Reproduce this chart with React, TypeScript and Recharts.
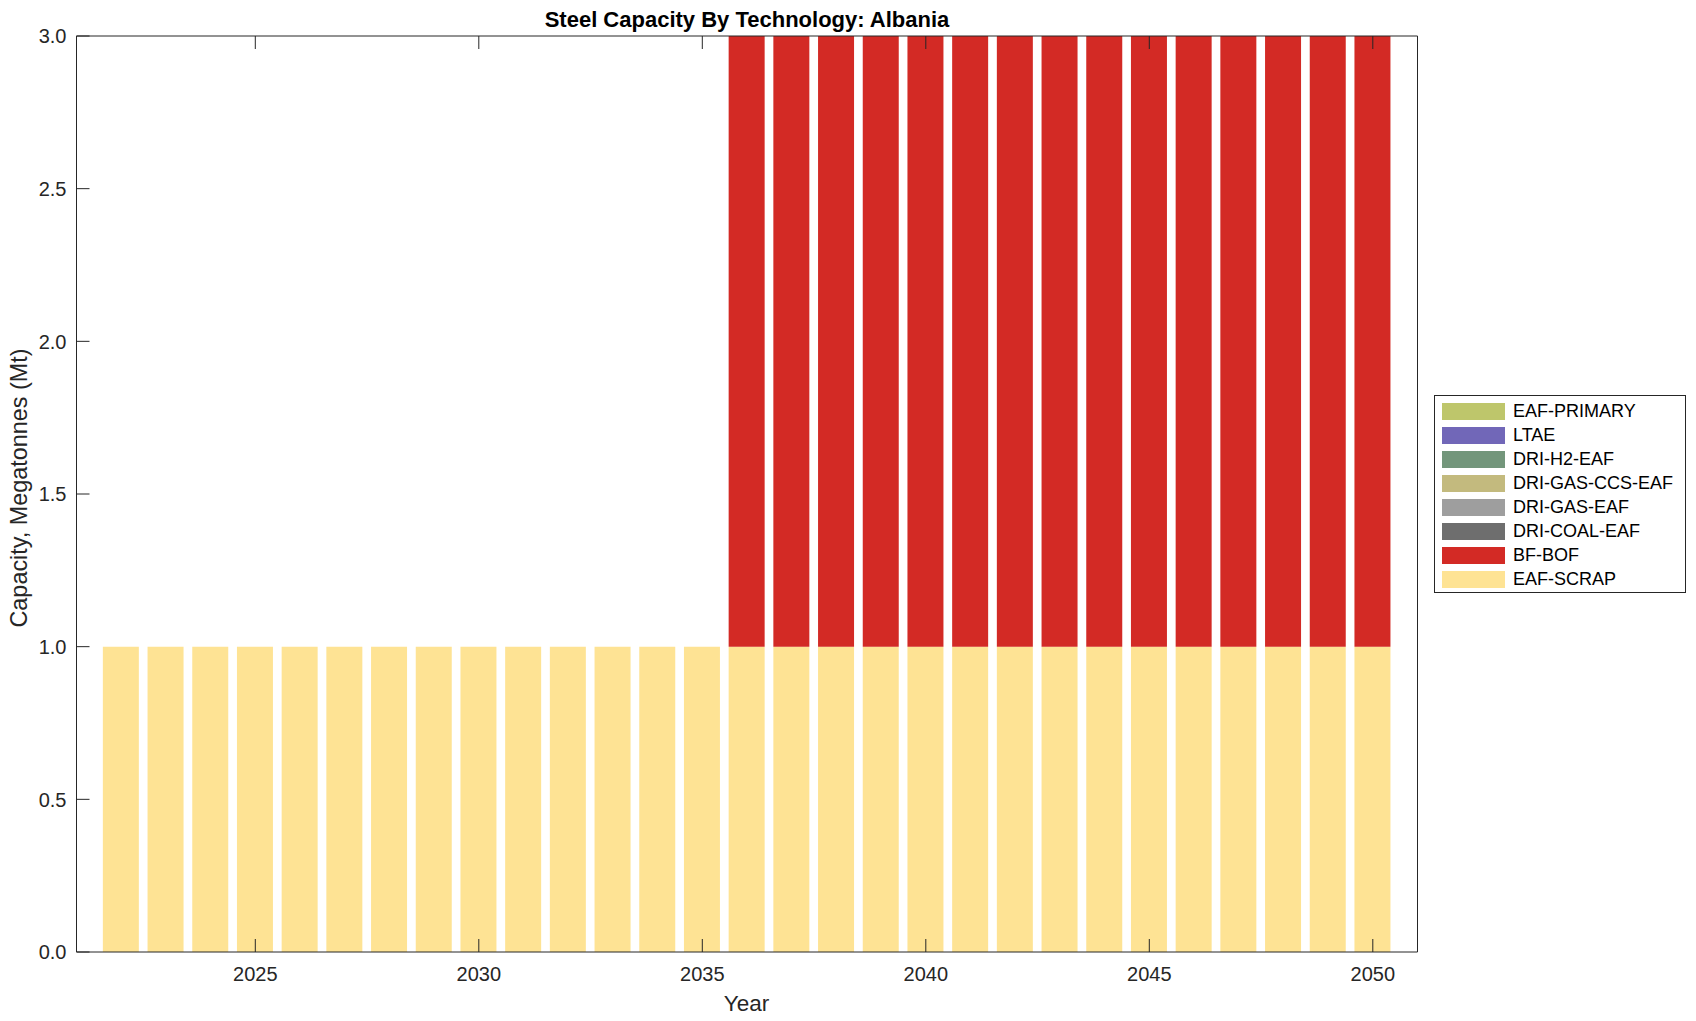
import { BarChart, Bar, XAxis, YAxis } from "recharts";

const years = [
  2022, 2023, 2024, 2025, 2026, 2027, 2028, 2029, 2030, 2031, 2032, 2033, 2034, 2035, 2036,
  2037, 2038, 2039, 2040, 2041, 2042, 2043, 2044, 2045, 2046, 2047, 2048, 2049, 2050,
];
const eafScrap = [1, 1, 1, 1, 1, 1, 1, 1, 1, 1, 1, 1, 1, 1, 1, 1, 1, 1, 1, 1, 1, 1, 1, 1, 1, 1, 1, 1, 1];
const bfBof = [0, 0, 0, 0, 0, 0, 0, 0, 0, 0, 0, 0, 0, 0, 2, 2, 2, 2, 2, 2, 2, 2, 2, 2, 2, 2, 2, 2, 2];
const driCoalEaf = years.map(() => 0);
const driGasEaf = years.map(() => 0);
const driGasCcsEaf = years.map(() => 0);
const driH2Eaf = years.map(() => 0);
const ltae = years.map(() => 0);
const eafPrimary = years.map(() => 0);

const xTicks = [2025, 2030, 2035, 2040, 2045, 2050];
const yTicks = [0, 0.5, 1, 1.5, 2, 2.5, 3];

// stacking order, bottom first
const series = [
  { key: "EAF-SCRAP", values: eafScrap, color: "#fee394" },
  { key: "BF-BOF", values: bfBof, color: "#d32a25" },
  { key: "DRI-COAL-EAF", values: driCoalEaf, color: "#6e6e6e" },
  { key: "DRI-GAS-EAF", values: driGasEaf, color: "#9e9e9e" },
  { key: "DRI-GAS-CCS-EAF", values: driGasCcsEaf, color: "#c3ba7e" },
  { key: "DRI-H2-EAF", values: driH2Eaf, color: "#73967b" },
  { key: "LTAE", values: ltae, color: "#7167b8" },
  { key: "EAF-PRIMARY", values: eafPrimary, color: "#bec66b" },
];

const data = years.map((year, i) => {
  const row: Record<string, number> = { year };
  series.forEach((s) => (row[s.key] = s.values[i]));
  return row;
});

const AXIS = "#262626";
const FONT = "'Liberation Sans', Arial, Helvetica, sans-serif";

const BottomTick = ({ x, y, payload }: any) => (
  <g>
    <line x1={x} x2={x} y1={y} y2={y - 13} stroke={AXIS} />
    <text x={x} y={y + 29} textAnchor="middle" fontSize={20} fill={AXIS} fontFamily={FONT}>
      {payload.value}
    </text>
  </g>
);
const TopTick = ({ x, y }: any) => <line x1={x} x2={x} y1={y} y2={y + 13} stroke={AXIS} />;
const LeftTick = ({ x, y, payload }: any) => (
  <g>
    <line x1={x} x2={x + 13} y1={y} y2={y} stroke={AXIS} />
    <text x={x - 10} y={y} dy="0.36em" textAnchor="end" fontSize={20} fill={AXIS} fontFamily={FONT}>
      {Number(payload.value).toFixed(1)}
    </text>
  </g>
);
const RightTick = ({ x, y }: any) => <line x1={x} x2={x - 13} y1={y} y2={y} stroke={AXIS} />;

export default function App() {
  const legendItems = [...series].reverse();
  return (
    <div style={{ position: "relative", width: 1680, height: 1005, fontFamily: FONT }}>
      <BarChart width={1680} height={1005} data={data} margin={{ top: 0, right: 0, bottom: 0, left: 0 }}>
        <XAxis
          xAxisId="bottom"
          dataKey="year"
          type="number"
          domain={[2021, 2051]}
          ticks={xTicks}
          height={61}
          tickSize={0}
          tickMargin={0}
          tickLine={false}
          axisLine={{ stroke: AXIS }}
          tick={<BottomTick />}
          interval={0}
        />
        <XAxis
          xAxisId="top"
          orientation="top"
          dataKey="year"
          type="number"
          domain={[2021, 2051]}
          ticks={xTicks}
          height={28}
          tickSize={0}
          tickMargin={0}
          tickLine={false}
          axisLine={{ stroke: AXIS }}
          tick={<TopTick />}
          interval={0}
        />
        <YAxis
          yAxisId="left"
          domain={[0, 3]}
          ticks={yTicks}
          width={68.5}
          tickSize={0}
          tickMargin={0}
          tickLine={false}
          axisLine={{ stroke: AXIS }}
          tick={<LeftTick />}
          interval={0}
        />
        <YAxis
          yAxisId="right"
          orientation="right"
          domain={[0, 3]}
          ticks={yTicks}
          width={270.5}
          tickSize={0}
          tickMargin={0}
          tickLine={false}
          axisLine={{ stroke: AXIS }}
          tick={<RightTick />}
          interval={0}
        />
        {series.map((s) => (
          <Bar
            key={s.key}
            dataKey={s.key}
            stackId="a"
            xAxisId="bottom"
            yAxisId="left"
            fill={s.color}
            barSize={36}
            isAnimationActive={false}
          />
        ))}
      </BarChart>

      <svg
        width={1680}
        height={1012}
        style={{ position: "absolute", left: 0, top: 0, pointerEvents: "none", overflow: "visible" }}
      >
        <text x={739} y={18.7} textAnchor="middle" fontSize={22} fontWeight="bold" fill="#000" fontFamily={FONT}>
          Steel Capacity By Technology: Albania
        </text>
        <text x={738.5} y={1003} textAnchor="middle" fontSize={22.5} fill={AXIS} fontFamily={FONT}>
          Year
        </text>
        <text
          x={18.5}
          y={480}
          transform="rotate(-90 18.5 480)"
          textAnchor="middle"
          fontSize={23.4}
          fill={AXIS}
          fontFamily={FONT}
        >
          Capacity, Megatonnes (Mt)
        </text>
      </svg>

      <div
        style={{
          position: "absolute",
          left: 1426,
          top: 387,
          width: 250,
          height: 196,
          border: `1px solid ${AXIS}`,
          background: "#fff",
          boxSizing: "content-box",
        }}
      >
        {legendItems.map((s, i) => (
          <div
            key={s.key}
            style={{ position: "absolute", left: 7, top: 7 + i * 24, height: 17, display: "flex", alignItems: "center" }}
          >
            <div style={{ width: 63, height: 17, background: s.color }} />
            <span style={{ marginLeft: 8, fontSize: 18, color: "#000", whiteSpace: "nowrap" }}>{s.key}</span>
          </div>
        ))}
      </div>
    </div>
  );
}
